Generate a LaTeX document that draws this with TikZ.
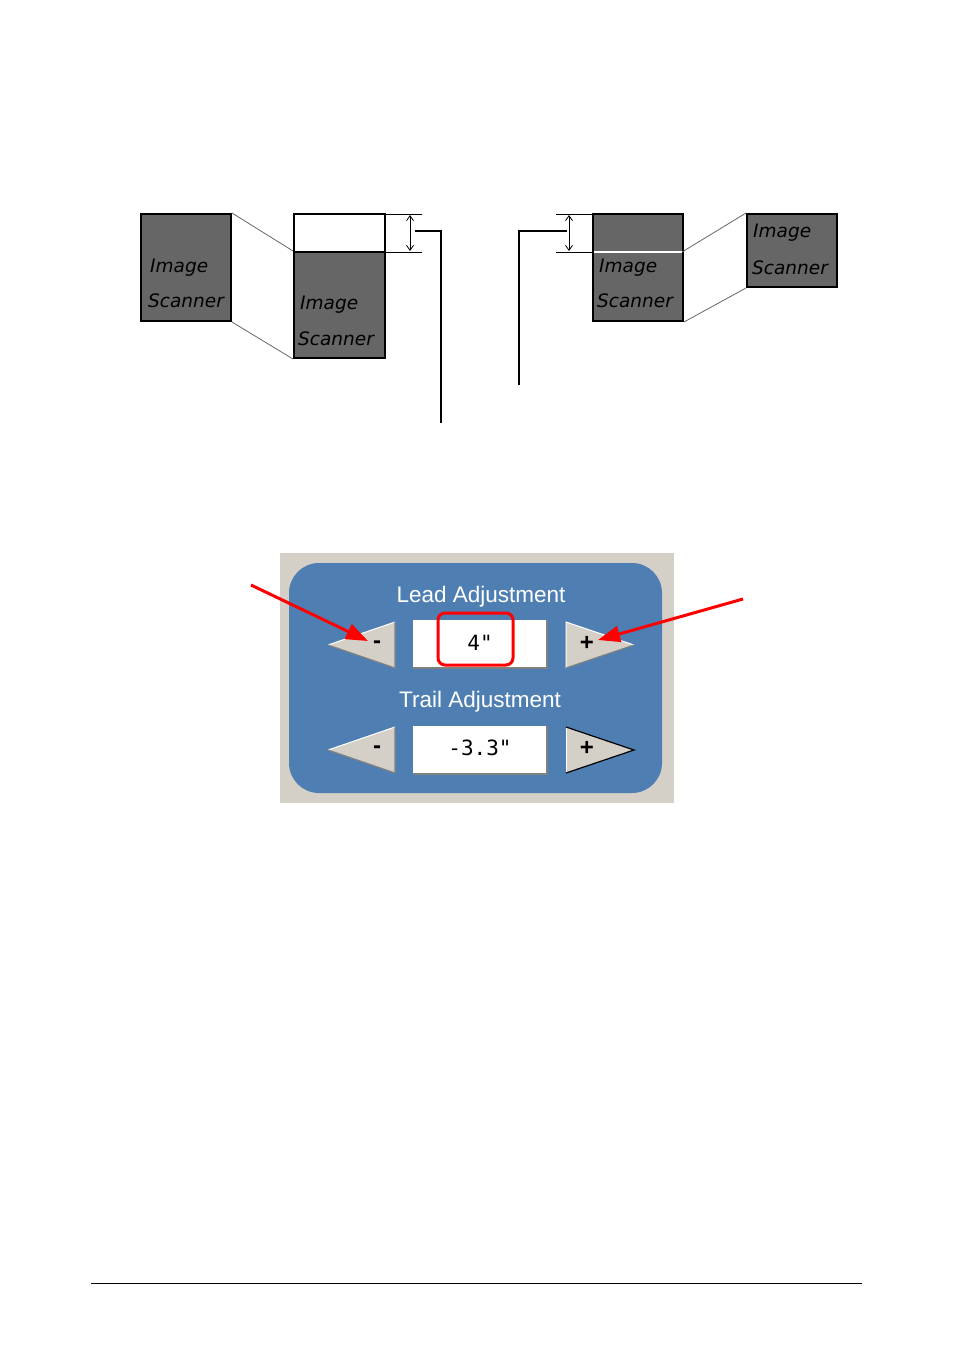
\documentclass[tikz,border=0pt]{standalone}
\usepackage{fontspec}
\setmainfont{Liberation Sans}
\newfontfamily\scanfont{DejaVu Sans}
\newfontfamily\monof{DejaVu Sans Mono}
\usetikzlibrary{arrows.meta}
\definecolor{scangray}{RGB}{102,102,102}
\definecolor{wingray}{RGB}{212,208,200}
\definecolor{panelblue}{RGB}{79,127,178}
\definecolor{shadow}{RGB}{128,128,128}
\begin{document}
\begin{tikzpicture}[x=1pt,y=-1pt,
  scanbox/.style={draw=black,line width=2pt,fill=scangray,inner sep=0pt},
  scantext/.style={anchor=west,inner sep=0pt,font=\scanfont\itshape\fontsize{18.5}{18.5}\selectfont,text=black},
  zoomline/.style={draw=black!60,line width=0.8pt},
  dimline/.style={draw=black,line width=0.8pt},
  dimarrow/.style={draw=black,line width=0.8pt,{Straight Barb[length=5pt,width=7pt]}-{Straight Barb[length=5pt,width=7pt]}},
  leader/.style={draw=black,line width=1.2pt},
  paneltext/.style={text=white,font=\fontsize{22.5}{23}\selectfont,inner sep=0pt},
  fieldtext/.style={font=\monof\fontsize{21}{21}\selectfont,inner sep=0pt},
  signtext/.style={font=\bfseries\fontsize{24}{24}\selectfont,inner sep=0pt},
  redarrow/.style={draw=red,line width=3pt,-{Triangle[length=22pt,width=16pt]}}
]
\useasboundingbox (0,0) rectangle (954,1350);

% ---------- left group ----------
\node[scanbox,minimum width=90pt,minimum height=107pt] (A) at (186,267.5) {};
\node[scantext] (At1) at (150,268) {Image};
\node[scantext] (At2) at (148,301) {Scanner};
\path[draw=black,line width=2pt,fill=white] (294,214) rectangle (385,252);
\node[scanbox,minimum width=91pt,minimum height=106pt] (B) at (339.5,305) {};
\draw[draw=black,line width=2pt] (294,214) rectangle (385,358);
\node[scantext] (Bt1) at (300,305) {Image};
\node[scantext] (Bt2) at (298,339) {Scanner};
\draw[zoomline] (A.north east) -- (B.north west);
\draw[zoomline] (A.south east) -- (B.south west);
\coordinate (L1) at (385,214); \coordinate (L1e) at (422,214);
\coordinate (L2) at (385,252); \coordinate (L2e) at (422,252);
\draw[dimline] (L1) -- (L1e);
\draw[dimline] (L2) -- (L2e);
\coordinate (La) at (410,215); \coordinate (Lb) at (410,251);
\draw[dimarrow] (La) -- (Lb);
\coordinate (Ls) at (415,231); \coordinate (Lend) at (441,423);
\draw[leader] (Ls) -| (Lend);

% ---------- right group ----------
\node[scanbox,minimum width=90pt,minimum height=107pt] (C) at (638,267.5) {};
\coordinate (Cw) at (594,252); \coordinate (Ce) at (682,252);
\draw[white,line width=2pt] (Cw) -- (Ce);
\node[scantext] (Ct1) at (599,268) {Image};
\node[scantext] (Ct2) at (597,301) {Scanner};
\node[scanbox,minimum width=90pt,minimum height=73pt] (D) at (792,250.5) {};
\node[scantext] (Dt1) at (753,233) {Image};
\node[scantext] (Dt2) at (752,268) {Scanner};
\draw[zoomline] (Ce) -- (D.north west);
\draw[zoomline] (C.south east) -- (D.south west);
\coordinate (R1) at (556,214); \coordinate (R1e) at (593,214);
\coordinate (R2) at (556,252); \coordinate (R2e) at (593,252);
\draw[dimline] (R1) -- (R1e);
\draw[dimline] (R2) -- (R2e);
\coordinate (Ra) at (569,215); \coordinate (Rb) at (569,251);
\draw[dimarrow] (Ra) -- (Rb);
\coordinate (Rs) at (567,231); \coordinate (Rend) at (519,385);
\draw[leader] (Rs) -| (Rend);

% ---------- control panel ----------
\fill[wingray] (280,553) rectangle (674,803);
\fill[panelblue,rounded corners=30pt] (289,563) rectangle (662,793);
\node[paneltext] (lead) at (481,597) {Lead Adjustment};
\node[paneltext] (trail) at (480,702) {Trail Adjustment};

% row 1
\fill[wingray] (328,645) -- (395,622) -- (395,668) -- cycle;
\draw[white,line width=1pt] (328,645) -- (395,622);
\draw[shadow,line width=1.2pt] (328,645) -- (395,668) -- (395,622);
\node[signtext] (m1) at (377,645) {-};
\fill[white] (413,620) rectangle (547,668);
\draw[shadow,line width=1.5pt] (413,668) -- (547,668) -- (547,620);
\node[fieldtext] (f1) at (480,643) {4"};
\fill[wingray] (634,645) -- (566,622) -- (566,668) -- cycle;
\draw[white,line width=1pt] (566,668) -- (566,622) -- (634,645);
\draw[shadow,line width=1.2pt] (634,645) -- (566,668);
\node[signtext] (p1) at (587,643) {+};
\draw[red,line width=3pt,rounded corners=7pt] (438,613) rectangle (513,665);

% row 2
\fill[wingray] (328,750) -- (395,727) -- (395,773) -- cycle;
\draw[white,line width=1pt] (328,750) -- (395,727);
\draw[shadow,line width=1.2pt] (328,750) -- (395,773) -- (395,727);
\node[signtext] (m2) at (377,750) {-};
\fill[white] (413,726) rectangle (547,774);
\draw[shadow,line width=1.5pt] (413,774) -- (547,774) -- (547,726);
\node[fieldtext] (f2) at (480,748) {-3.3"};
\fill[wingray] (634,750) -- (566,727) -- (566,773) -- cycle;
\draw[white,line width=1pt] (566,773) -- (566,727);
\draw[black,line width=1.2pt] (566,727) -- (634,750) -- (566,773);
\node[signtext] (p2) at (587,748) {+};

% red arrows
\coordinate (ra1) at (251,585); \coordinate (ra2) at (743,599);
\coordinate (ta1) at (368,641); \coordinate (ta2) at (598,640);
\draw[redarrow] (ra1) -- (ta1);
\draw[redarrow] (ra2) -- (ta2);

% footer rule
\coordinate (F1) at (91,1283); \coordinate (F2) at (862,1283);
\draw[black,line width=1pt] (F1) -- (F2);
\end{tikzpicture}
\end{document}
